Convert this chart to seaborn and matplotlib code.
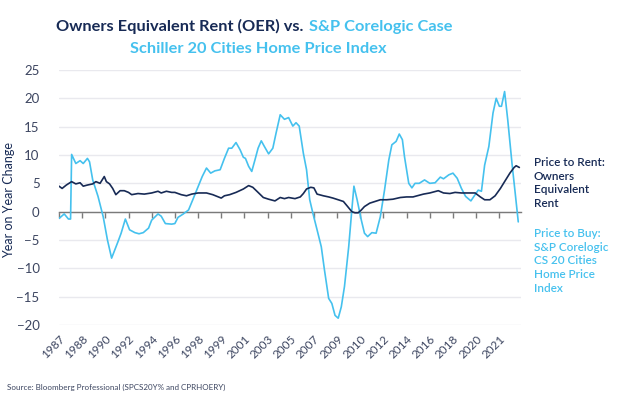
import numpy as np
import pandas as pd
import matplotlib
matplotlib.use("Agg")
import matplotlib.pyplot as plt
import matplotlib.dates as mdates
import seaborn as sns

# ---------------- data ----------------
cs_dates = ["1987-01", "1987-06", "1987-10", "1987-12", "1988-01", "1988-05", "1988-09", "1988-12",
            "1989-04", "1989-06", "1989-09", "1990-02", "1990-07", "1990-11", "1991-03", "1991-09",
            "1991-12", "1992-04", "1992-08", "1993-01", "1993-05", "1993-09", "1994-02", "1994-05",
            "1994-11", "1995-02", "1995-06", "1995-12", "1996-03", "1996-06", "1996-11", "1997-04",
            "1997-08", "1998-01", "1998-05", "1998-09", "1999-01", "1999-05", "1999-10", "2000-02",
            "2000-06", "2000-09", "2001-01", "2001-05", "2001-08", "2001-10", "2002-01", "2002-04",
            "2002-07", "2002-10", "2003-01", "2003-04", "2003-08", "2003-12", "2004-03", "2004-07",
            "2004-11", "2005-03", "2005-07", "2005-10", "2006-01", "2006-05", "2006-08", "2006-11",
            "2007-02", "2007-06", "2007-10", "2008-01", "2008-05", "2008-08", "2008-11", "2009-02",
            "2009-05", "2009-08", "2009-12", "2010-03", "2010-05", "2010-08", "2010-12", "2011-03",
            "2011-06", "2011-10", "2012-02", "2012-06", "2012-10", "2013-02", "2013-05", "2013-09",
            "2013-12", "2014-03", "2014-05", "2014-09", "2014-12", "2015-03", "2015-07", "2015-12",
            "2016-05", "2016-10", "2017-03", "2017-06", "2017-11", "2018-03", "2018-07", "2018-11",
            "2019-03", "2019-08", "2019-12", "2020-03", "2020-06", "2020-09", "2021-01", "2021-05",
            "2021-08", "2021-11", "2022-01", "2022-04", "2022-07", "2022-11", "2023-02", "2023-05"]
cs_values = [-1.2, -0.4, -1.3, -1.3, 10.1, 8.5, 9.0, 8.5,
             9.4, 8.8, 5.6, 2.7, -0.9, -5.0, -8.2, -5.3,
             -3.8, -1.3, -3.2, -3.7, -3.9, -3.7, -2.9, -1.5,
             -0.4, -0.8, -2.1, -2.2, -2.1, -1.0, -0.4, 0.3,
             2.1, 4.4, 6.2, 7.7, 6.8, 7.2, 7.4, 9.4,
             11.2, 11.2, 12.2, 10.9, 9.6, 9.4, 8.0, 7.1,
             9.1, 11.2, 12.5, 11.5, 10.2, 11.2, 13.8, 17.1,
             16.3, 16.6, 15.1, 15.7, 15.1, 10.3, 7.4, 2.1,
             -0.3, -3.2, -6.2, -10.3, -15.3, -16.2, -18.3, -18.8,
             -16.8, -13.2, -6.2, 0.3, 4.5, 2.1, -1.5, -3.8,
             -4.4, -3.7, -3.8, -0.9, 3.8, 9.1, 11.8, 12.4,
             13.7, 12.7, 9.7, 5.0, 4.2, 5.0, 5.0, 5.6,
             5.0, 5.1, 6.1, 5.8, 6.5, 6.8, 5.9, 4.1,
             2.7, 1.9, 3.0, 3.8, 3.6, 8.2, 11.5, 17.4,
             20.0, 18.6, 18.6, 21.2, 16.2, 8.5, 3.3, -1.8]

oer_dates = ["1987-01", "1987-04", "1987-08", "1988-01", "1988-05", "1988-09", "1988-12", "1989-04",
             "1989-09", "1989-12", "1990-04", "1990-08", "1990-10", "1991-01", "1991-04", "1991-07",
             "1991-11", "1992-03", "1992-07", "1992-10", "1993-04", "1993-10", "1994-05", "1994-11",
             "1995-02", "1995-07", "1995-12", "1996-03", "1996-09", "1997-02", "1997-07", "1998-01",
             "1998-09", "1999-03", "1999-11", "2000-02", "2000-07", "2001-01", "2001-08", "2002-01",
             "2002-05", "2002-10", "2003-03", "2003-08", "2004-02", "2004-07", "2004-11", "2005-03",
             "2005-09", "2006-02", "2006-05", "2006-08", "2006-12", "2007-03", "2007-06", "2007-12",
             "2008-05", "2008-09", "2009-02", "2009-07", "2009-11", "2010-03", "2010-06", "2010-09",
             "2010-12", "2011-03", "2011-08", "2012-01", "2012-06", "2012-12", "2013-06", "2014-01",
             "2014-07", "2015-01", "2015-05", "2015-11", "2016-05", "2017-01", "2017-06", "2017-12",
             "2018-05", "2018-11", "2019-06", "2019-12", "2020-05", "2020-09", "2021-02", "2021-07",
             "2021-12", "2022-04", "2022-09", "2023-01", "2023-03", "2023-06"]
oer_values = [4.5, 4.1, 4.7, 5.3, 4.9, 5.1, 4.5, 4.7,
              4.9, 5.3, 5.0, 6.2, 5.3, 4.9, 4.1, 3.0,
              3.7, 3.7, 3.4, 3.0, 3.2, 3.1, 3.3, 3.6,
              3.3, 3.6, 3.4, 3.4, 3.0, 2.8, 3.1, 3.3,
              3.3, 3.0, 2.4, 2.8, 3.0, 3.4, 4.0, 4.6,
              4.3, 3.4, 2.5, 2.2, 1.9, 2.5, 2.3, 2.5,
              2.3, 2.6, 3.2, 4.0, 4.3, 4.2, 3.1, 2.8,
              2.6, 2.4, 2.1, 1.8, 0.9, 0.0, -0.2, -0.2,
              0.3, 0.9, 1.5, 1.8, 2.1, 2.1, 2.2, 2.5,
              2.6, 2.6, 2.8, 3.1, 3.3, 3.7, 3.3, 3.2,
              3.4, 3.3, 3.3, 3.3, 2.6, 2.1, 2.1, 2.8,
              4.1, 5.3, 6.8, 7.8, 8.1, 7.8]

tick_labels = ["1987", "1988", "1990", "1992", "1994", "1996", "1998", "1999", "2001", "2003",
               "2005", "2007", "2009", "2010", "2012", "2014", "2016", "2018", "2020", "2021"]
y_ticks = [-20, -15, -10, -5, 0, 5, 10, 15, 20, 25]

NAVY = "#172a55"
BLUE = "#45c1ee"
TEXT = "#3c4560"

df = pd.concat([
    pd.DataFrame({"date": pd.to_datetime(cs_dates), "value": cs_values, "series": "CS20"}),
    pd.DataFrame({"date": pd.to_datetime(oer_dates), "value": oer_values, "series": "OER"}),
], ignore_index=True)

sns.set_theme(style="white")
plt.rcParams["font.family"] = ["Lato", "DejaVu Sans"]

fig = plt.figure(figsize=(6.2, 3.97), dpi=100)
ax = fig.add_axes([59 / 620, 1 - 325 / 397, (521 - 59) / 620, (325 - 70) / 397])

sns.lineplot(data=df, x="date", y="value", hue="series", hue_order=["CS20", "OER"],
             palette={"CS20": BLUE, "OER": NAVY}, linewidth=1.2, legend=False, ax=ax)

ax.set_ylim(-20, 25)
ax.set_xlim(pd.Timestamp("1987-01-01"), pd.Timestamp("2023-07-19"))
ax.set_yticks(y_ticks)
ax.yaxis.grid(True, color="#e9e9ee", linewidth=1.0)
ax.xaxis.grid(False)
for s in ["left", "right", "top"]:
    ax.spines[s].set_visible(False)
ax.spines["bottom"].set_position(("data", 0))
ax.spines["bottom"].set_color("#7a7a7a")
ax.spines["bottom"].set_linewidth(1.0)
ax.spines["bottom"].set_zorder(1)

tick_dates = pd.date_range("1987-01-01", periods=20, freq="22MS")
tick_nums = mdates.date2num(tick_dates)
ax.set_xticks(tick_nums)
ax.tick_params(axis="x", direction="out", length=4, width=1, color="#7a7a7a",
               labelbottom=False, bottom=True)
ax.tick_params(axis="y", length=0, pad=14, labelsize=9.5, labelcolor=TEXT)
ax.set_xlabel("")
ax.set_ylabel("Year on Year Change", fontsize=9, color=NAVY)
ax.yaxis.set_label_coords((15 - 59) / 462, 0.49)

sec = ax.secondary_xaxis("bottom")
sec.set_xticks(tick_nums)
sec.set_xticklabels(tick_labels, rotation=45, ha="right", rotation_mode="anchor",
                    fontsize=8.5, color=TEXT)
sec.tick_params(length=0, pad=6)
sec.spines["bottom"].set_visible(False)

# title (two colours)
TS = 11.8
fig.text(303 / 620, 1 - 31 / 397, "Owners Equivalent Rent (OER) vs.", ha="right",
         va="baseline", fontsize=TS, fontweight="bold", color=NAVY)
fig.text(309 / 620, 1 - 31 / 397, "S&P Corelogic Case", ha="left",
         va="baseline", fontsize=TS, fontweight="bold", color=BLUE)
fig.text(258 / 620, 1 - 53 / 397, "Schiller 20 Cities Home Price Index", ha="center",
         va="baseline", fontsize=TS, fontweight="bold", color=BLUE)

# right-side labels
fig.text(534 / 620, 1 - 157 / 397, "Price to Rent:\nOwners\nEquivalent\nRent", ha="left",
         va="top", fontsize=8.5, fontweight="semibold", color=NAVY, linespacing=1.3)
fig.text(534 / 620, 1 - 228 / 397, "Price to Buy:\nS&P Corelogic\nCS 20 Cities\nHome Price\nIndex",
         ha="left", va="top", fontsize=8.5, fontweight="semibold", color=BLUE, linespacing=1.3)

fig.text(7 / 620, 1 - 387 / 397, "Source: Bloomberg Professional (SPCS20Y% and CPRHOERY)",
         ha="left", va="center", fontsize=5.8, color=TEXT)

fig.savefig("out.png", dpi=100)
